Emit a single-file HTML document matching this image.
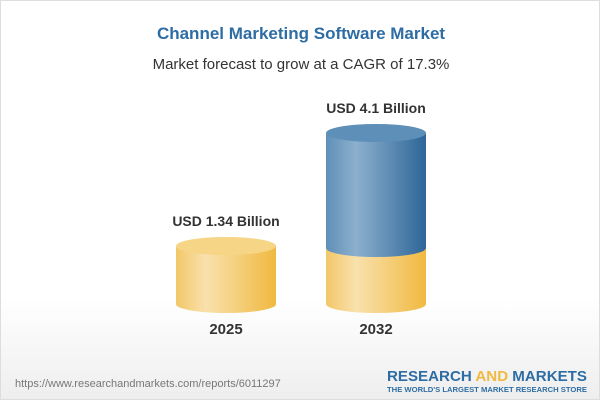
<!DOCTYPE html>
<html><head><style>
body{margin:0;width:600px;height:400px;overflow:hidden;font-family:"Liberation Sans",sans-serif}
.wrap{position:absolute;left:0;top:0;width:598px;height:398px;border:1px solid #ddd;background:linear-gradient(#fff 0%,#fff 75%,#eee 100%)}
</style></head><body><div class="wrap">
<svg width="600" height="400" style="position:absolute;left:0;top:0">
<defs>
<linearGradient id="y" x1="0" x2="1"><stop offset="0" stop-color="#f2c768"/><stop offset="0.3" stop-color="#f9e1ad"/><stop offset="1" stop-color="#f0b940"/></linearGradient>
<linearGradient id="b" x1="0" x2="1"><stop offset="0" stop-color="#5f8fb8"/><stop offset="0.3" stop-color="#8cb0cd"/><stop offset="1" stop-color="#2d6698"/></linearGradient>
</defs>
<text x="300" y="38" text-anchor="middle" font-size="17" font-weight="bold" fill="#2e6da4">Channel Marketing Software Market</text>
<text x="300" y="68" text-anchor="middle" font-size="15" fill="#333">Market forecast to grow at a CAGR of 17.3%</text>
<ellipse cx="225" cy="304" rx="50" ry="7" fill="#e4e4e4"/>
<path d="M175 245 L175 303 A50 9 0 0 0 275 303 L275 245 Z" fill="url(#y)"/>
<ellipse cx="225" cy="245" rx="50" ry="9" fill="#f6d587"/>
<path d="M325 247 L325 303 A50 9 0 0 0 425 303 L425 247 Z" fill="url(#y)"/>
<path d="M325 132 L325 247 A50 9 0 0 0 425 247 L425 132 Z" fill="url(#b)"/>
<ellipse cx="375" cy="132" rx="50" ry="9" fill="#5e8fb9"/>
<text x="225" y="225" text-anchor="middle" font-size="14" font-weight="bold" fill="#333">USD 1.34 Billion</text>
<text x="375" y="112" text-anchor="middle" font-size="14" font-weight="bold" fill="#333">USD 4.1 Billion</text>
<text x="225" y="333" text-anchor="middle" font-size="15" font-weight="bold" fill="#333">2025</text>
<text x="375" y="333" text-anchor="middle" font-size="15" font-weight="bold" fill="#333">2032</text>
<text x="14" y="386" font-size="11" fill="#777">https://www.researchandmarkets.com/reports/6011297</text>
<text x="386" y="380" font-size="15" font-weight="bold" fill="#2e6da4" textLength="200" lengthAdjust="spacingAndGlyphs">RESEARCH <tspan fill="#f0b940">AND</tspan> MARKETS</text>
<text x="386" y="391" font-size="7" font-weight="bold" fill="#2e6da4" textLength="200" lengthAdjust="spacingAndGlyphs">THE WORLD'S LARGEST MARKET RESEARCH STORE</text>
</svg></div></body></html>
